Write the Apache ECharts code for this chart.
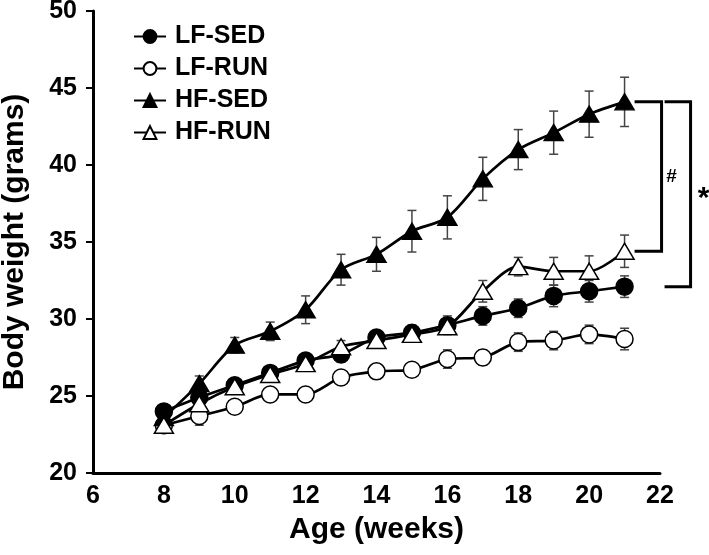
<!DOCTYPE html>
<html>
<head>
<meta charset="utf-8">
<script src="https://cdn.jsdelivr.net/npm/echarts@6/dist/echarts.min.js"></script>
<style>html,body{margin:0;padding:0;background:#fff}#c{width:709px;height:555px}</style>
</head>
<body>
<div id="c"></div>
<script>
// ---- data ----
const weeks = [8, 9, 10, 11, 12, 13, 14, 15, 16, 17, 18, 19, 20, 21];
const seriesNames = ['LF-SED', 'LF-RUN', 'HF-SED', 'HF-RUN'];
const lfSed    = [24.0, 24.9, 25.7, 26.5, 27.3, 27.7, 28.8, 29.1, 29.6, 30.2, 30.7, 31.5, 31.8, 32.1];
const lfSedErr = [0.4, 0.4, 0.4, 0.4, 0.4, 0.5, 0.4, 0.5, 0.6, 0.6, 0.6, 0.7, 0.7, 0.7];
const lfRun    = [23.1, 23.7, 24.3, 25.1, 25.1, 26.2, 26.6, 26.7, 27.4, 27.5, 28.5, 28.6, 29.0, 28.7];
const lfRunErr = [0.3, 0.6, 0.4, 0.4, 0.3, 0.3, 0.4, 0.4, 0.6, 0.5, 0.6, 0.6, 0.6, 0.7];
const hfSed    = [23.6, 25.8, 28.3, 29.2, 30.6, 33.2, 34.2, 35.7, 36.6, 39.1, 41.0, 42.1, 43.3, 44.1];
const hfSedErr = [0.3, 0.5, 0.5, 0.6, 0.9, 1.0, 1.1, 1.35, 1.4, 1.4, 1.3, 1.4, 1.5, 1.6];
const hfRun    = [23.1, 24.5, 25.6, 26.4, 27.1, 28.2, 28.6, 29.0, 29.5, 31.8, 33.4, 33.1, 33.1, 34.4];
const hfRunErr = [0.3, 0.4, 0.4, 0.4, 0.4, 0.4, 0.4, 0.4, 0.5, 0.7, 0.6, 0.9, 1.0, 1.05];
const xTicks = [6, 8, 10, 12, 14, 16, 18, 20, 22];
const yTicks = [20, 25, 30, 35, 40, 45, 50];
const annotations = ['#', '*'];

const FONT = '"Liberation Sans", Arial, sans-serif';
const chart = echarts.init(document.getElementById('c'), null, {renderer: 'canvas'});

const groups = [
  {name: seriesNames[0], vals: lfSed, errs: lfSedErr, symbol: 'circle', size: 17, fill: '#000'},
  {name: seriesNames[1], vals: lfRun, errs: lfRunErr, symbol: 'circle', size: 17, fill: '#fff'},
  {name: seriesNames[2], vals: hfSed, errs: hfSedErr, symbol: 'triangle', size: [19, 16], fill: '#000'},
  {name: seriesNames[3], vals: hfRun, errs: hfRunErr, symbol: 'triangle', size: [19, 16], fill: '#fff'}
];

const series = [];
groups.forEach(function (g) {
  series.push({
    type: 'custom',
    name: g.name + '-err',
    z: 1,
    silent: true,
    data: weeks.map(function (w, i) { return [w, g.vals[i], g.errs[i]]; }),
    renderItem: function (params, api) {
      const x = api.value(0), y = api.value(1), e = api.value(2);
      const top = api.coord([x, y + e]);
      const bot = api.coord([x, y - e]);
      const cw = 4.5;
      const st = {stroke: '#444', lineWidth: 1.5};
      return {
        type: 'group',
        children: [
          {type: 'line', shape: {x1: top[0], y1: top[1], x2: bot[0], y2: bot[1]}, style: st},
          {type: 'line', shape: {x1: top[0] - cw, y1: top[1], x2: top[0] + cw, y2: top[1]}, style: st},
          {type: 'line', shape: {x1: bot[0] - cw, y1: bot[1], x2: bot[0] + cw, y2: bot[1]}, style: st}
        ]
      };
    }
  });
});
groups.forEach(function (g, gi) {
  series.push({
    type: 'line',
    name: g.name,
    z: 2 + gi,
    data: weeks.map(function (w, i) { return [w, g.vals[i]]; }),
    smooth: 0.3,
    symbol: g.symbol,
    symbolSize: g.size,
    showAllSymbol: true,
    lineStyle: {color: '#000', width: 2.7},
    itemStyle: {color: g.fill, borderColor: '#000', borderWidth: 1.5},
    emphasis: {disabled: true}
  });
});

const option = {
  animation: false,
  backgroundColor: '#fff',
  grid: {left: 93, right: 49, top: 11, bottom: 82, containLabel: false, outerBoundsMode: 'none'},
  legend: {
    data: seriesNames,
    orient: 'vertical',
    left: 133,
    top: 24,
    padding: 0,
    itemWidth: 32,
    itemHeight: 16,
    itemGap: 7,
    textStyle: {fontFamily: FONT, fontWeight: 'bold', fontSize: 25, color: '#000', lineHeight: 25, padding: [0, 0, 0, 4]},
    selectedMode: false
  },
  xAxis: {
    type: 'value',
    min: xTicks[0],
    max: xTicks[xTicks.length - 1],
    interval: 2,
    name: 'Age (weeks)',
    nameLocation: 'middle',
    nameGap: 42,
    nameTextStyle: {fontFamily: FONT, fontWeight: 'bold', fontSize: 30, color: '#000'},
    axisLine: {lineStyle: {color: '#000', width: 3}},
    axisTick: {show: false},
    splitLine: {show: false},
    axisLabel: {fontFamily: FONT, fontWeight: 'bold', fontSize: 25, color: '#000', margin: 11}
  },
  yAxis: {
    type: 'value',
    min: yTicks[0],
    max: yTicks[yTicks.length - 1],
    interval: 5,
    name: 'Body weight (grams)',
    nameLocation: 'middle',
    nameGap: 63,
    nameTextStyle: {fontFamily: FONT, fontWeight: 'bold', fontSize: 30, color: '#000'},
    axisLine: {show: true, lineStyle: {color: '#000', width: 3}},
    axisTick: {show: true, length: 7, lineStyle: {color: '#000', width: 2}},
    splitLine: {show: false},
    axisLabel: {fontFamily: FONT, fontWeight: 'bold', fontSize: 25, color: '#000', margin: 16}
  },
  series: series
};
chart.setOption(option);

// significance brackets, placed from the data values at the last week
const last = weeks.length - 1;
const xLast = chart.convertToPixel({xAxisIndex: 0}, weeks[last]);
const yTop = chart.convertToPixel({yAxisIndex: 0}, hfSed[last]);
const yMid = chart.convertToPixel({yAxisIndex: 0}, hfRun[last]);
const yBot = chart.convertToPixel({yAxisIndex: 0}, lfSed[last]);
const bs = {stroke: '#000', lineWidth: 3, fill: null};
chart.setOption({
  graphic: [
    {type: 'polyline', shape: {points: [[xLast + 10, yTop], [xLast + 37, yTop], [xLast + 37, yMid], [xLast + 10, yMid]]}, style: bs},
    {type: 'polyline', shape: {points: [[xLast + 40, yTop], [xLast + 66, yTop], [xLast + 66, yBot], [xLast + 40, yBot]]}, style: bs},
    {type: 'text', x: xLast + 47, y: (yTop + yMid) / 2, style: {text: annotations[0], font: 'bold 19px ' + FONT, fill: '#000', textAlign: 'center', textVerticalAlign: 'middle'}},
    {type: 'text', x: xLast + 79, y: (yTop + yBot) / 2 + 4, style: {text: annotations[1], font: 'bold 30px ' + FONT, fill: '#000', textAlign: 'center', textVerticalAlign: 'middle'}}
  ]
});
</script>
</body>
</html>
